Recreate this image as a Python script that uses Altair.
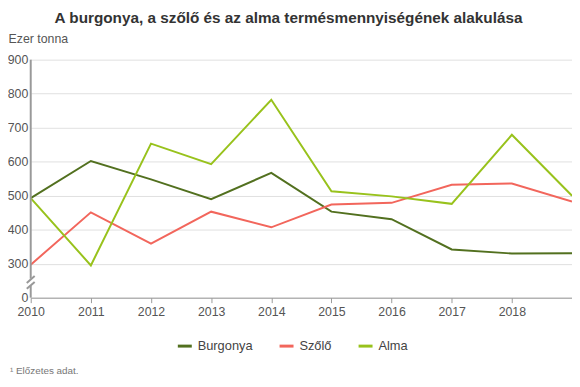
import altair as alt
import pandas as pd

years = [2010, 2011, 2012, 2013, 2014, 2015, 2016, 2017, 2018, 2019]
burgonya = [493, 602, 548, 490, 567, 453, 431, 342, 330, 331]
szolo = [297, 451, 359, 453, 407, 474, 479, 532, 536, 483]
alma = [493, 295, 653, 593, 782, 513, 498, 476, 679, 500]
series = ["Burgonya", "Szőlő", "Alma"]
colors = ["#52701f", "#f2665c", "#98c21c"]
y_ticks = [200, 300, 400, 500, 600, 700, 800, 900]
title_text = "A burgonya, a szőlő és az alma termésmennyiségének alakulása"
y_title = "Ezer tonna"
footnote = "¹ Előzetes adat."

rows = []
for name, vals in zip(series, [burgonya, szolo, alma]):
    for yr, v in zip(years, vals):
        rows.append({"year": yr, "value": v, "series": name})
df = pd.DataFrame(rows)

W, H = 548, 241
FONT = "Liberation Sans"

y_scale = alt.Scale(domain=[200, 900], nice=False, zero=False)
y_axis = alt.Axis(values=y_ticks,
                  labelExpr="datum.value == 200 ? '0' : datum.label",
                  labelFlush=False, labelOverlap=False,
                  title=y_title, titleAngle=0, titleX=-23, titleY=-14,
                  titleAlign="left", titleBaseline="bottom",
                  titleFontWeight="normal", titleFontSize=12.5, titleColor="#555",
                  domain=False, ticks=False, gridColor="#e0e0e0",
                  labelColor="#555", labelFontSize=12.5, labelPadding=3)

lines = alt.Chart(df).mark_line(strokeWidth=2).encode(
    x=alt.X("year:Q", scale=alt.Scale(domain=[2010, 2019], nice=False, zero=False),
            axis=alt.Axis(values=years, format="d",
                          labelExpr="datum.value == 2019 ? '' : datum.label",
                          labelFlush=False, labelOverlap=False,
                          title=None, grid=False, domainColor="#999", tickColor="#999",
                          tickSize=5, labelColor="#555", labelFontSize=12.5, labelPadding=3)),
    y=alt.Y("value:Q", scale=y_scale, axis=y_axis),
    color=alt.Color("series:N", sort=series,
                    scale=alt.Scale(domain=series, range=colors),
                    legend=alt.Legend(title=None, orient="none", direction="horizontal",
                                      legendX=147, legendY=281, symbolType="stroke",
                                      symbolStrokeWidth=3, symbolSize=200,
                                      labelFontSize=13, labelColor="#444",
                                      columnPadding=20, labelOffset=4)),
)

seg = pd.DataFrame({"value": [900, 236], "value2": [256, 200]})
axis_line = alt.Chart(seg).mark_rule(color="#999", strokeWidth=2).encode(
    x=alt.value(0), y=alt.Y("value:Q", scale=y_scale, axis=y_axis), y2="value2:Q")

one = pd.DataFrame({"t": [footnote]})
slash1 = alt.Chart(one).mark_rule(color="#999", strokeWidth=2).encode(
    x=alt.value(-4), x2=alt.value(4), y=alt.value(226), y2=alt.value(219))
slash2 = alt.Chart(one).mark_rule(color="#999", strokeWidth=2).encode(
    x=alt.value(-4), x2=alt.value(4), y=alt.value(232), y2=alt.value(225))

foot = alt.Chart(one).mark_text(align="left", baseline="middle", fontSize=10,
                                color="#777").encode(
    text="t:N", x=alt.value(-21), y=alt.value(315))

chart = alt.layer(lines, axis_line, slash1, slash2, foot).properties(
    width=W, height=H,
    title=alt.TitleParams(title_text, anchor="middle", fontSize=15.5, fontWeight="bold",
                          color="#333", dx=-13, offset=7),
    autosize=alt.AutoSizeParams(type="none"),
    padding={"left": 23, "top": 50, "right": 0, "bottom": 80},
).configure(font=FONT).configure_view(stroke=None)

chart.save("out.html", embed_options={"renderer": "svg", "actions": False})
